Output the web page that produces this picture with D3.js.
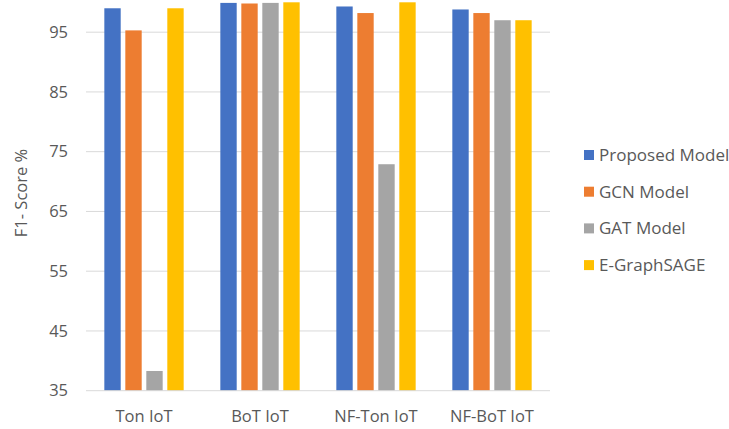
<!DOCTYPE html>
<html>
<head>
<meta charset="utf-8">
<script src="https://cdn.jsdelivr.net/npm/d3@7"></script>
<style>
  html, body { margin: 0; padding: 0; background: #fff; }
  svg { display: block; font-family: "Open Sans", "Liberation Sans", sans-serif; }
</style>
</head>
<body>
<svg id="chart" width="729" height="429"></svg>
<script>
// Datasets on the x axis
const categories = ["Ton IoT", "BoT IoT", "NF-Ton IoT", "NF-BoT IoT"];
// Models compared
const seriesNames = ["Proposed Model", "GCN Model", "GAT Model", "E-GraphSAGE"];
const seriesColors = ["#4472C4", "#ED7D31", "#A5A5A5", "#FFC000"];
// F1-score per model, one value per dataset
const proposedModel = [99.0, 99.9, 99.3, 98.8];
const gcnModel = [95.3, 99.8, 98.2, 98.2];
const gatModel = [38.3, 99.9, 72.9, 97.0];
const eGraphSage = [99.0, 100.0, 100.0, 97.0];
const yTicks = [35, 45, 55, 65, 75, 85, 95];

const seriesValues = [proposedModel, gcnModel, gatModel, eGraphSage];

const svg = d3.select("#chart");
const plot = { left: 86, right: 550, top: 2.3, bottom: 390.7 };

const y = d3.scaleLinear().domain([35, 100]).range([plot.bottom, plot.top]);
const x0 = d3.scaleBand().domain(categories).range([plot.left, plot.right])
  .paddingInner(0.316).paddingOuter(0.158);
const x1 = d3.scaleBand().domain(seriesNames).range([0, x0.bandwidth()])
  .paddingInner(0.22).paddingOuter(0);

// Horizontal gridlines
svg.append("g")
  .selectAll("line")
  .data(yTicks.slice(1))
  .join("line")
  .attr("x1", plot.left).attr("x2", plot.right)
  .attr("y1", d => y(d)).attr("y2", d => y(d))
  .attr("stroke", "#d9d9d9").attr("stroke-width", 1);

// Y axis labels
const yAxis = d3.axisLeft(y).tickValues(yTicks).tickSize(0).tickPadding(0);
const yg = svg.append("g").attr("transform", `translate(${plot.left - 18},0)`).call(yAxis);
yg.select(".domain").remove();
yg.selectAll("text")
  .attr("fill", "#595959").attr("font-size", 16.5)
  .attr("font-family", "'Open Sans', sans-serif");

// Bars
const groups = svg.append("g")
  .selectAll("g")
  .data(categories)
  .join("g")
  .attr("transform", d => `translate(${x0(d)},0)`);

groups.selectAll("rect")
  .data((d, ci) => seriesNames.map((s, si) => ({ s, si, v: seriesValues[si][ci] })))
  .join("rect")
  .attr("x", d => x1(d.s))
  .attr("width", x1.bandwidth())
  .attr("y", d => y(d.v))
  .attr("height", d => y(35) - y(d.v))
  .attr("fill", d => seriesColors[d.si]);

// Baseline
svg.append("line")
  .attr("x1", plot.left).attr("x2", plot.right)
  .attr("y1", y(35)).attr("y2", y(35))
  .attr("stroke", "#d9d9d9").attr("stroke-width", 1);

// X axis labels
const xAxis = d3.axisBottom(x0).tickSize(0).tickPadding(0);
const xg = svg.append("g").attr("transform", `translate(0,${plot.bottom + 19.5})`).call(xAxis);
xg.select(".domain").remove();
xg.selectAll("text")
  .attr("fill", "#595959").attr("font-size", 16.5)
  .attr("font-family", "'Open Sans', sans-serif");

// Y axis title
svg.append("text")
  .attr("transform", `translate(27,193) rotate(-90)`)
  .attr("text-anchor", "middle")
  .attr("fill", "#595959").attr("font-size", 16.5)
  .text("F1- Score %");

// Legend
const legend = svg.append("g")
  .selectAll("g")
  .data(seriesNames)
  .join("g")
  .attr("transform", (d, i) => `translate(584,${155 + i * 36.7})`);

legend.append("rect")
  .attr("x", 0).attr("y", -5).attr("width", 10).attr("height", 10)
  .attr("fill", (d, i) => seriesColors[i]);

legend.append("text")
  .attr("x", 15).attr("y", 0).attr("dy", "0.35em")
  .attr("fill", "#595959").attr("font-size", 17)
  .text(d => d);
</script>
</body>
</html>
